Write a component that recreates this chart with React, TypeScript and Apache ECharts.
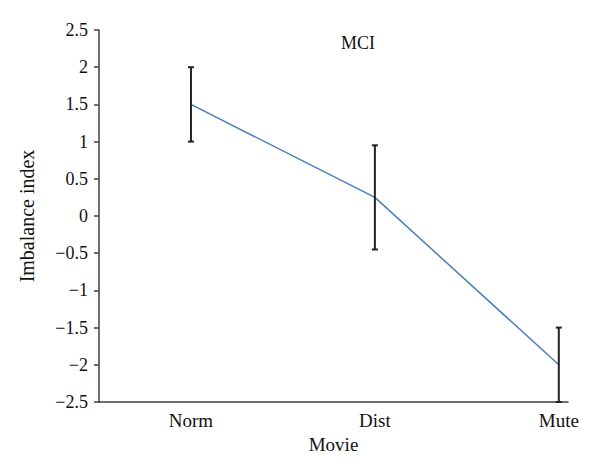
import React, { useEffect, useRef } from "react";
import * as echarts from "echarts";

const categories = ["Norm", "Dist", "Mute"];
const means = [1.5, 0.25, -2.0];
const errLow = [1.0, -0.45, -2.5];
const errHigh = [2.0, 0.95, -1.5];
const yTicks = { min: -2.5, max: 2.5, interval: 0.5 };

const FONT = "'Liberation Serif', 'DejaVu Serif', serif";
const fmt = (v: number) => {
  const s = String(Math.abs(v));
  return v < 0 ? "\u2212" + s : s;
};

export default function App() {
  const ref = useRef<HTMLDivElement>(null);
  useEffect(() => {
    if (!ref.current) return;
    const chart = echarts.init(ref.current, undefined, { renderer: "svg" });
    const lineData = means.map((m, i) => [i, m]);
    const errData = categories.map((_, i) => [i, errLow[i], errHigh[i]]);
    chart.setOption({
      animation: false,
      backgroundColor: "#fff",
      title: {
        text: "MCI",
        left: 336,
        top: 29,
        textStyle: { fontFamily: FONT, fontSize: 18, fontWeight: "normal", color: "#111" },
      },
      grid: { left: 99, top: 30, right: 32, bottom: 74 },
      xAxis: {
        type: "value",
        min: -0.5,
        max: 2.05,
        interval: 0.5,
        name: "Movie",
        nameLocation: "middle",
        nameGap: 31,
        nameTextStyle: { fontFamily: FONT, fontSize: 19, color: "#111" },
        axisLine: { show: true, onZero: false, lineStyle: { color: "#404040", width: 1.5 } },
        axisTick: { show: false },
        splitLine: { show: false },
        axisLabel: {
          margin: 9,
          fontFamily: FONT,
          fontSize: 19,
          color: "#111",
          showMinLabel: true,
          showMaxLabel: true,
          formatter: (v: number) =>
            Number.isInteger(v) && categories[v] !== undefined ? categories[v] : "",
        },
      },
      yAxis: {
        type: "value",
        min: yTicks.min,
        max: yTicks.max,
        interval: yTicks.interval,
        name: "Imbalance index",
        nameLocation: "middle",
        nameGap: 62,
        nameTextStyle: { fontFamily: FONT, fontSize: 20, color: "#111" },
        axisLine: { show: true, onZero: false, lineStyle: { color: "#404040", width: 1.5 } },
        axisTick: { show: true, inside: false, length: 5, lineStyle: { color: "#404040", width: 1.5 } },
        splitLine: { show: false },
        axisLabel: {
          margin: 11,
          fontFamily: FONT,
          fontSize: 18,
          color: "#111",
          formatter: (v: number) => fmt(v),
        },
      },
      series: [
        {
          type: "line",
          data: lineData,
          symbol: "none",
          lineStyle: { color: "#4A7EBB", width: 1.5 },
          z: 3,
        },
        {
          type: "custom",
          data: errData,
          z: 4,
          renderItem: (params: any, api: any) => {
            const x = api.value(0);
            const lo = api.coord([x, api.value(1)]);
            const hi = api.coord([x, api.value(2)]);
            const hw = 3;
            const style = { stroke: "#222", lineWidth: 2 };
            return {
              type: "group",
              children: [
                { type: "line", shape: { x1: lo[0], y1: lo[1], x2: hi[0], y2: hi[1] }, style },
                { type: "line", shape: { x1: hi[0] - hw, y1: hi[1], x2: hi[0] + hw, y2: hi[1] }, style },
                { type: "line", shape: { x1: lo[0] - hw, y1: lo[1], x2: lo[0] + hw, y2: lo[1] }, style },
              ],
            };
          },
        },
      ],
    });
    return () => chart.dispose();
  }, []);
  return (
    <div
      ref={ref}
      style={{ position: "absolute", left: 0, top: 0, width: 600, height: 476 }}
    />
  );
}
